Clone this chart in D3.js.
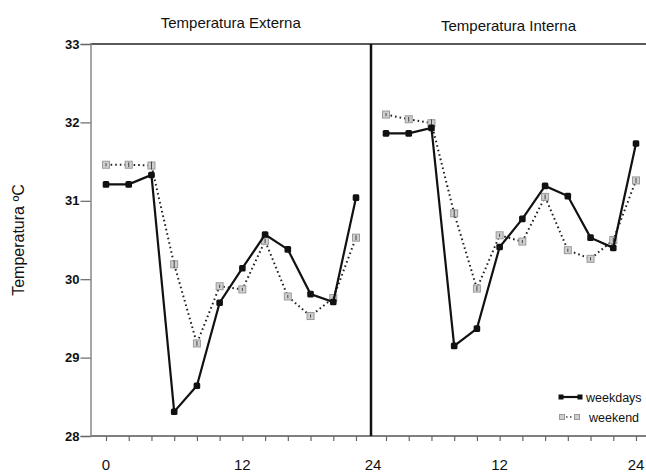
<!DOCTYPE html>
<html>
<head>
<meta charset="utf-8">
<script src="https://cdn.jsdelivr.net/npm/d3@7"></script>
<style>
  body { margin: 0; background: #fff; }
  text { font-family: "Liberation Sans", Arial, sans-serif; fill: #111; }
</style>
</head>
<body>
<div id="chart"></div>
<script>
// Donnees
var horasExterna = [0, 2, 4, 6, 8, 10, 12, 14, 16, 18, 20, 22];
var horasInterna = [2, 4, 6, 8, 10, 12, 14, 16, 18, 20, 22, 24];

var externaWeekdays = [31.21, 31.21, 31.33, 28.31, 28.64, 29.70, 30.14, 30.57, 30.38, 29.81, 29.71, 31.04];
var externaWeekend  = [31.46, 31.46, 31.45, 30.19, 29.18, 29.91, 29.87, 30.49, 29.78, 29.53, 29.76, 30.53];
var externaErro     = [0.02, 0.03, 0.05, 0.05, 0.03, 0.02, 0.02, 0.03, 0.02, 0.02, 0.02, 0.03];

var internaWeekdays = [31.86, 31.86, 31.93, 29.15, 29.37, 30.41, 30.77, 31.19, 31.06, 30.53, 30.40, 31.73];
var internaWeekend  = [32.10, 32.04, 31.99, 30.84, 29.88, 30.56, 30.48, 31.05, 30.37, 30.26, 30.50, 31.26];
var internaErro     = [0.02, 0.03, 0.05, 0.05, 0.03, 0.02, 0.02, 0.03, 0.02, 0.02, 0.03, 0.03];

var yTicks = [28, 29, 30, 31, 32, 33];
var rotulosExterna = [0, 12];
var rotulosInterna = [12, 24];
var titulos = ["Temperatura Externa", "Temperatura Interna"];
var series = ["weekdays", "weekend"];

// Dimensions
var largura = 646, altura = 473;
var svg = d3.select("#chart").append("svg").attr("width", largura).attr("height", altura);

var y = d3.scaleLinear().domain([28, 33]).range([436, 44]);
var xEsq = d3.scaleLinear().domain([0, 22]).range([106, 356]);
var xDir = d3.scaleLinear().domain([2, 24]).range([386, 636]);

var eixoX0 = 90.5;
var divisor = (xEsq(22) + xDir(2)) / 2;

// Cadre
svg.append("line").attr("x1", eixoX0).attr("x2", largura).attr("y1", y(33)).attr("y2", y(33))
  .attr("stroke", "#222").attr("stroke-width", 1.5);
svg.append("line").attr("x1", eixoX0).attr("x2", largura).attr("y1", y(28)).attr("y2", y(28))
  .attr("stroke", "#555").attr("stroke-width", 1.5);
svg.append("line").attr("x1", divisor).attr("x2", divisor).attr("y1", y(33)).attr("y2", y(28))
  .attr("stroke", "#111").attr("stroke-width", 2.5);

// Axe Y
var eixoY = svg.append("g").attr("transform", "translate(" + eixoX0 + ",0)")
  .call(d3.axisLeft(y).tickValues(yTicks).tickSize(10).tickPadding(1).tickFormat(d3.format("d")));
eixoY.select(".domain").attr("stroke", "#888").attr("stroke-width", 1.5);
eixoY.selectAll(".tick line").attr("stroke", "#666").attr("stroke-width", 1.2);
eixoY.selectAll(".tick text").attr("font-size", 13).attr("font-weight", "bold")
  .attr("font-family", "Liberation Sans, Arial, sans-serif").attr("fill", "#111");

// Axes X (graduations)
[[xEsq, horasExterna], [xDir, horasInterna]].forEach(function (p) {
  var g = svg.append("g").attr("transform", "translate(0," + y(28) + ")")
    .call(d3.axisBottom(p[0]).tickValues(p[1]).tickSize(5).tickFormat(""));
  g.select(".domain").remove();
  g.selectAll(".tick line").attr("stroke", "#666").attr("stroke-width", 1.2);
});

// Etiquettes X
var rotulos = rotulosExterna.map(function (h) { return { x: xEsq(h), t: h }; })
  .concat([{ x: divisor + 2, t: 24 }])
  .concat(rotulosInterna.map(function (h) { return { x: xDir(h), t: h }; }));
svg.selectAll("text.rotulo").data(rotulos).enter().append("text")
  .attr("class", "rotulo")
  .attr("x", function (d) { return d.x; })
  .attr("y", 470)
  .attr("text-anchor", "middle")
  .attr("font-size", 15)
  .text(function (d) { return d.t; });

// Titres
svg.selectAll("text.titulo").data(titulos).enter().append("text")
  .attr("class", "titulo")
  .attr("x", function (d, i) { return i === 0 ? (eixoX0 + divisor) / 2 : (divisor + largura) / 2; })
  .attr("y", function (d, i) { return i === 0 ? 28 : 31; })
  .attr("text-anchor", "middle")
  .attr("font-size", 15)
  .text(function (d) { return d; });

// Titre axe Y
svg.append("text")
  .attr("transform", "translate(24," + ((y(28) + y(33)) / 2) + ") rotate(-90)")
  .attr("text-anchor", "middle")
  .attr("font-size", 16)
  .text("Temperatura ºC");

// Series
function desenharPainel (x, horas, weekdays, weekend, erro) {
  var linha = d3.line().x(function (d) { return x(d.h); }).y(function (d) { return y(d.v); });
  var dadosWd = horas.map(function (h, i) { return { h: h, v: weekdays[i] }; });
  var dadosWe = horas.map(function (h, i) { return { h: h, v: weekend[i], e: erro[i] }; });

  svg.append("path").datum(dadosWe).attr("d", linha)
    .attr("fill", "none").attr("stroke", "#222").attr("stroke-width", 2)
    .attr("stroke-dasharray", "1.6,3");

  var we = svg.append("g").selectAll("g").data(dadosWe).enter().append("g");
  we.append("rect")
    .attr("x", function (d) { return x(d.h) - 3.5; })
    .attr("y", function (d) { return y(d.v) - 3.5; })
    .attr("width", 7).attr("height", 7)
    .attr("fill", "#cfcfcf").attr("stroke", "#9a9a9a").attr("stroke-width", 1);
  we.append("line")
    .attr("x1", function (d) { return x(d.h); }).attr("x2", function (d) { return x(d.h); })
    .attr("y1", function (d) { return y(d.v - d.e); }).attr("y2", function (d) { return y(d.v + d.e); })
    .attr("stroke", "#444").attr("stroke-width", 1);

  svg.append("path").datum(dadosWd).attr("d", linha)
    .attr("fill", "none").attr("stroke", "#111").attr("stroke-width", 2.2);

  svg.append("g").selectAll("rect").data(dadosWd).enter().append("rect")
    .attr("x", function (d) { return x(d.h) - 3.3; })
    .attr("y", function (d) { return y(d.v) - 3.3; })
    .attr("width", 6.6).attr("height", 6.6).attr("rx", 1.5)
    .attr("fill", "#111");
}

desenharPainel(xEsq, horasExterna, externaWeekdays, externaWeekend, externaErro);
desenharPainel(xDir, horasInterna, internaWeekdays, internaWeekend, internaErro);

// Legende
var legenda = svg.append("g");
series.forEach(function (s, i) {
  var ly = 397 + i * 20;
  var x1 = i === 0 ? 561 : 562, x2 = i === 0 ? 580 : 577;
  legenda.append("line").attr("x1", x1).attr("x2", x2).attr("y1", ly).attr("y2", ly)
    .attr("stroke", i === 0 ? "#111" : "#444").attr("stroke-width", i === 0 ? 2.2 : 1.5)
    .attr("stroke-dasharray", i === 0 ? null : "1.5,2.5");
  [x1, x2].forEach(function (px) {
    legenda.append("rect").attr("x", px - 2.5).attr("y", ly - 2.5).attr("width", 5).attr("height", 5)
      .attr("fill", i === 0 ? "#111" : "#cfcfcf").attr("stroke", i === 0 ? "none" : "#9a9a9a");
  });
  legenda.append("text").attr("x", i === 0 ? 586 : 589).attr("y", ly + 4.5)
    .attr("font-size", 12.5).text(s);
});
</script>
</body>
</html>
